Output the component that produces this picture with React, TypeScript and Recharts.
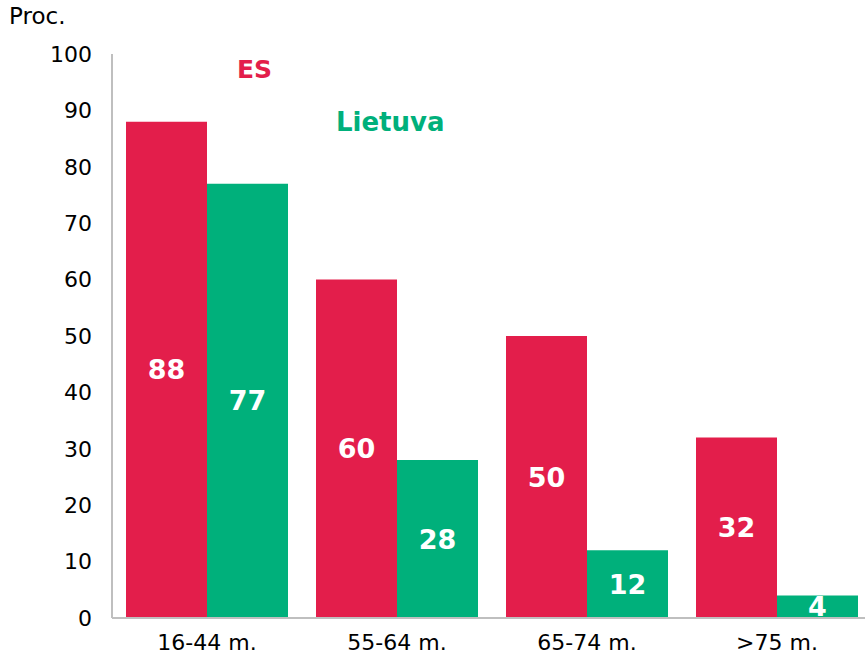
import { BarChart, Bar, XAxis, YAxis, LabelList } from "recharts";

const ageGroups = ["16-44 m.", "55-64 m.", "65-74 m.", ">75 m."];
const esValues = [88, 60, 50, 32];
const ltValues = [77, 28, 12, 4];
const yTicks = [0, 10, 20, 30, 40, 50, 60, 70, 80, 90, 100];

const RED = "#e31e4b";
const GREEN = "#00b07b";
const FONT = "'DejaVu Sans', Verdana, sans-serif";

export default function App() {
  const data = ageGroups.map((g, i) => ({ group: g, es: esValues[i], lt: ltValues[i] }));

  return (
    <div
      style={{
        position: "absolute",
        left: 0,
        top: 0,
        width: 865,
        height: 656,
        overflow: "hidden",
        background: "#fff",
        fontFamily: FONT,
      }}
    >
      <div style={{ position: "absolute", left: 9, top: 3, fontSize: 23, color: "#000" }}>Proc.</div>
      <div style={{ position: "absolute", left: 237, top: 55, fontSize: 25, fontWeight: "bold", color: RED }}>ES</div>
      <div style={{ position: "absolute", left: 336, top: 107, fontSize: 26, fontWeight: "bold", color: GREEN }}>
        Lietuva
      </div>
      <BarChart
        width={880}
        height={656}
        data={data}
        margin={{ top: 54, right: 8, bottom: 0, left: 0 }}
        barGap={0}
        barSize={81}
      >
        <XAxis
          dataKey="group"
          height={38}
          tickLine={false}
          tickSize={0}
          tickMargin={16}
          axisLine={{ stroke: "#bfbfbf", strokeWidth: 2 }}
          tick={{ fill: "#000", fontSize: 22, fontFamily: FONT }}
        />
        <YAxis
          width={112}
          domain={[0, 100]}
          ticks={yTicks}
          tickLine={false}
          tickSize={0}
          tickMargin={20}
          axisLine={{ stroke: "#bfbfbf", strokeWidth: 2 }}
          tick={{ fill: "#000", fontSize: 22, fontFamily: FONT }}
        />
        <Bar dataKey="es" fill={RED} isAnimationActive={false}>
          <LabelList
            dataKey="es"
            position="center"
            fill="#fff"
            style={{ fontSize: 27, fontWeight: "bold", fontFamily: FONT }}
          />
        </Bar>
        <Bar dataKey="lt" fill={GREEN} isAnimationActive={false}>
          <LabelList
            dataKey="lt"
            position="center"
            fill="#fff"
            style={{ fontSize: 27, fontWeight: "bold", fontFamily: FONT }}
          />
        </Bar>
      </BarChart>
    </div>
  );
}
